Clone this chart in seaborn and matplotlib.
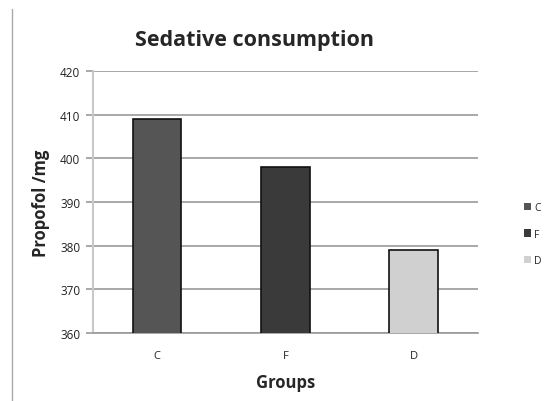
import matplotlib
matplotlib.use("Agg")
import matplotlib.pyplot as plt
from matplotlib.lines import Line2D
from matplotlib.patches import Patch
import seaborn as sns
import pandas as pd

groups = ["C", "F", "D"]
propofol_mg = [409, 398, 379]
bar_colors = ["#555555", "#3a3a3a", "#d0d0d0"]
y_ticks = [360, 370, 380, 390, 400, 410, 420]

sns.set_theme(style="white")
plt.rcParams["font.family"] = ["Open Sans", "DejaVu Sans"]

df = pd.DataFrame({"Group": groups, "Propofol": propofol_mg})

fig = plt.figure(figsize=(5.53, 4.02), dpi=100)
ax = fig.add_axes([0.168, 0.169, 0.696, 0.652])

sns.barplot(data=df, x="Group", y="Propofol", hue="Group", palette=bar_colors,
            width=0.38, dodge=False, edgecolor="#111111", linewidth=1.2,
            legend=False, ax=ax, zorder=3)

ax.set_ylim(360, 420)
ax.set_yticks(y_ticks)
ax.set_yticklabels([str(t) for t in y_ticks], fontsize=8.5, color="#222222")
ax.set_xticks(range(len(groups)))
ax.set_xticklabels(groups, fontsize=8, color="#222222")
ax.tick_params(axis="y", length=5, width=1.2, color="#9a9a9a", pad=4, left=True)
ax.tick_params(axis="x", length=0, pad=12)
ax.yaxis.grid(True, color="#9a9a9a", linewidth=1.2, zorder=0)
ax.set_axisbelow(True)

for side in ("top", "right"):
    ax.spines[side].set_visible(False)
ax.spines["left"].set_color("#c8c8c8")
ax.spines["left"].set_linewidth(1.5)
ax.spines["bottom"].set_color("#9a9a9a")
ax.spines["bottom"].set_linewidth(1.2)

ax.set_xlabel("Groups", fontsize=12, fontweight="bold", labelpad=9)
ax.set_ylabel("Propofol /mg", fontsize=12, fontweight="bold", labelpad=7)
fig.text(0.46, 0.9, "Sedative consumption", fontsize=15.5, fontweight="bold",
         ha="center", va="center")

handles = [Patch(facecolor=c, edgecolor="none") for c in bar_colors]
fig.legend(handles, groups, loc="center left", bbox_to_anchor=(0.94, 0.415),
           frameon=False, fontsize=7.5, handlelength=0.7, handleheight=0.7,
           handletextpad=0.3, labelspacing=1.5, borderaxespad=0)

# thin frame edge on the left side of the canvas
fig.add_artist(Line2D([0.022, 0.022], [0.0, 0.975], color="#aaaaaa",
                      linewidth=1.0, transform=fig.transFigure))

fig.savefig("out.png", dpi=100, facecolor="white")
